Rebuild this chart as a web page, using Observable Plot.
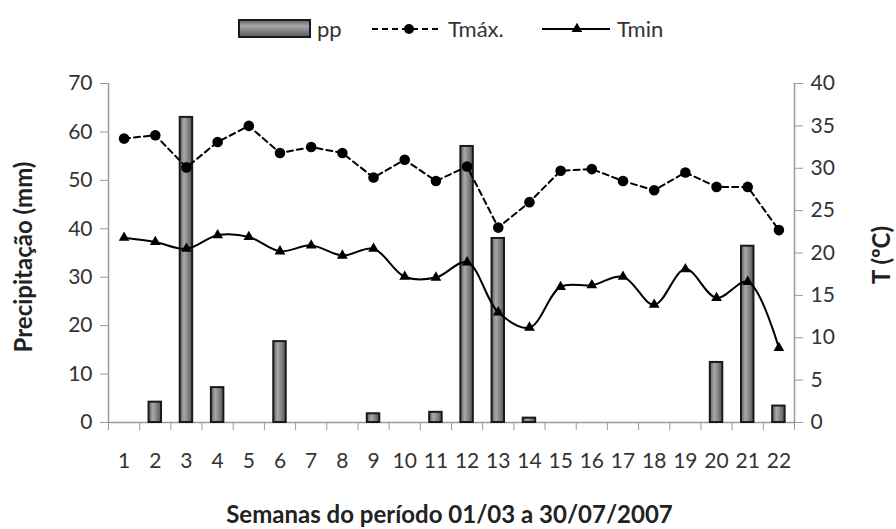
<!DOCTYPE html>
<html><head><meta charset="utf-8">
<script src="https://cdn.jsdelivr.net/npm/d3@7"></script>
<script src="https://cdn.jsdelivr.net/npm/@observablehq/plot@0.6"></script>
<style>
body{margin:0;background:#fff;font-family:Lato,sans-serif;}
#legend{display:block;}
#chart svg{display:block;}
</style></head><body>
<svg id="legend" width="896" height="58"></svg>
<div id="chart"></div>
<script>
const weeks = [1,2,3,4,5,6,7,8,9,10,11,12,13,14,15,16,17,18,19,20,21,22];
const pp   = [0,4.2,63,7.2,0,16.7,0,0,1.8,0,2.1,57,38,0.9,0,0,0,0,0,12.4,36.4,3.4];
const tmax = [33.5,33.9,30.1,33.1,35.0,31.8,32.5,31.8,28.9,31.0,28.5,30.2,23.0,26.0,29.7,29.9,28.5,27.4,29.5,27.8,27.8,22.7];
const tmin = [21.8,21.3,20.5,22.1,21.9,20.2,20.9,19.7,20.5,17.2,17.1,18.9,13.0,11.2,16.0,16.2,17.2,13.9,18.1,14.7,16.6,8.8];
const ppTicks = [0,10,20,30,40,50,60,70];
const tTicks = [0,5,10,15,20,25,30,35,40];
const legendLabels = ["pp","Tmáx.","Tmin"];
const xTitle = "Semanas do período 01/03 a 30/07/2007";
const yTitle = "Precipitação (mm)";
const y2Title = "T (ºC)";

const ppMax = 70, tMaxAxis = 40, k = ppMax / tMaxAxis;
const data = weeks.map((w, i) => ({week: w, pp: pp[i], tmax: tmax[i], tmin: tmin[i]}));
const boundaries = weeks.map(w => w - 0.5).concat([weeks[weeks.length - 1] + 0.5]);

// legend + gradient defs
const lg = d3.select("#legend");
const defs = lg.append("defs");
const grad = defs.append("linearGradient").attr("id", "barGrad").attr("x1", "0").attr("x2", "1").attr("y1", "0").attr("y2", "0");
[[0, "#5e5e5e"], [0.35, "#a9a9a9"], [0.6, "#8a8a8a"], [1, "#555"]].forEach(([o, c]) => grad.append("stop").attr("offset", o).attr("stop-color", c));
const gradH = defs.append("linearGradient").attr("id", "legGrad").attr("x1", "0").attr("x2", "0").attr("y1", "0").attr("y2", "1");
[[0, "#5e5e5e"], [0.35, "#a9a9a9"], [0.6, "#8a8a8a"], [1, "#555"]].forEach(([o, c]) => gradH.append("stop").attr("offset", o).attr("stop-color", c));
lg.append("rect").attr("x", 239).attr("y", 20).attr("width", 71).attr("height", 17).attr("fill", "url(#legGrad)").attr("stroke", "#1a1a1a").attr("stroke-width", 2);
lg.append("line").attr("x1", 372).attr("x2", 440).attr("y1", 29).attr("y2", 29).attr("stroke", "#000").attr("stroke-width", 2).attr("stroke-dasharray", "6,4");
lg.append("circle").attr("cx", 409).attr("cy", 29).attr("r", 5).attr("fill", "#000");
lg.append("line").attr("x1", 542).attr("x2", 610).attr("y1", 29).attr("y2", 29).attr("stroke", "#000").attr("stroke-width", 2);
lg.append("path").attr("d", d3.symbol(d3.symbolTriangle, 50)()).attr("transform", "translate(577,29)").attr("fill", "#000");
[[317, legendLabels[0]], [448, legendLabels[1]], [617, legendLabels[2]]].forEach(([x, t]) =>
  lg.append("text").attr("x", x).attr("y", 29).attr("dy", "0.35em").attr("font-size", 22).attr("fill", "#333").attr("font-family", "Lato").text(t));

const chart = Plot.plot({
  width: 896, height: 471,
  marginTop: 25, marginBottom: 107, marginLeft: 108, marginRight: 102,
  style: {fontFamily: "Lato", fontSize: "21px", color: "#333", background: "#fff", overflow: "visible"},
  x: {type: "linear", domain: [0.5, 22.5]},
  y: {domain: [0, ppMax]},
  marks: [
    // axis lines
    Plot.ruleY([0], {stroke: "#9a9a9a", strokeWidth: 1.5}),
    Plot.ruleX([0.5, 22.5], {y1: 0, y2: ppMax, stroke: "#9a9a9a", strokeWidth: 1.5}),
    // left axis
    Plot.axisY(ppTicks, {anchor: "left", tickSize: 8, tickPadding: 8, stroke: "#9a9a9a", fill: "#333", label: null}),
    // right axis (temperature)
    Plot.axisY(tTicks.map(t => t * k), {anchor: "right", tickSize: 8, tickPadding: 8, stroke: "#9a9a9a", fill: "#333", label: null, tickFormat: v => String(Math.round(v / k))}),
    // x ticks between weeks
    Plot.axisX(boundaries, {anchor: "bottom", tickSize: 8, tickFormat: () => "", stroke: "#9a9a9a", label: null}),
    // x labels
    Plot.axisX(weeks, {anchor: "bottom", tickSize: 0, tickPadding: 31, fill: "#333", label: null, tickFormat: d => String(d)}),
    // bars
    Plot.rectY(data.filter(d => d.pp > 0), {x1: d => d.week - 0.2, x2: d => d.week + 0.2, y: "pp", fill: "url(#barGrad)", stroke: "#1a1a1a", strokeWidth: 2}),
    // Tmax
    Plot.line(data, {x: "week", y: d => d.tmax * k, stroke: "#000", strokeWidth: 2, strokeDasharray: "6,4"}),
    Plot.dot(data, {x: "week", y: d => d.tmax * k, r: 5.3, fill: "#000"}),
    // Tmin
    Plot.line(data, {x: "week", y: d => d.tmin * k, stroke: "#000", strokeWidth: 2, curve: "catmull-rom"}),
    Plot.dot(data, {x: "week", y: d => d.tmin * k, r: 4, symbol: "triangle", fill: "#000"}),
    // titles
    Plot.text([yTitle], {frameAnchor: "left", textAnchor: "middle", lineAnchor: "middle", dx: -84, dy: 4, rotate: -90, fontWeight: "bold", fontSize: 24, fill: "#222"}),
    Plot.text([y2Title], {frameAnchor: "right", textAnchor: "middle", lineAnchor: "middle", dx: 88, dy: 2, rotate: -90, fontWeight: "bold", fontSize: 24, fill: "#222"}),
    Plot.text([xTitle], {frameAnchor: "bottom", textAnchor: "middle", lineAnchor: "middle", dy: 93, dx: -2, fontWeight: "bold", fontSize: 24, fill: "#222"})
  ]
});
document.getElementById("chart").append(chart);
</script>
</body></html>
